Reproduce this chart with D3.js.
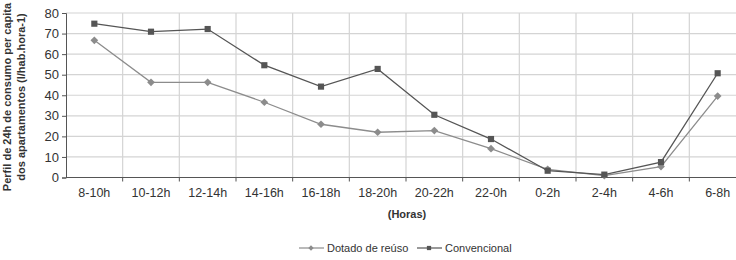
<!DOCTYPE html>
<html>
<head>
<meta charset="utf-8">
<script src="https://cdn.jsdelivr.net/npm/d3@7"></script>
<style>
body { margin: 0; background: #fff; }
svg { font-family: "Liberation Sans", Arial, sans-serif; }
</style>
</head>
<body>
<svg id="chart" width="736" height="260"></svg>
<script>
// categories and series
var horas = ["8-10h","10-12h","12-14h","14-16h","16-18h","18-20h","20-22h","22-0h","0-2h","2-4h","4-6h","6-8h"];
var dotado = [66.7, 46.3, 46.3, 36.6, 25.9, 22.0, 22.8, 14.0, 4.0, 0.9, 5.3, 39.6];
var convencional = [74.8, 70.9, 72.2, 54.6, 44.2, 52.8, 30.5, 18.7, 3.3, 1.4, 7.5, 50.7];
var yTicks = [0, 10, 20, 30, 40, 50, 60, 70, 80];

var svg = d3.select("#chart");
var pLeft = 66, pRight = 746, pTop = 13, pBottom = 177.5;

var x = d3.scaleBand().domain(horas).range([pLeft, pRight]);
var y = d3.scaleLinear().domain([0, 80]).range([pBottom, pTop]);

// grid
svg.append("g").selectAll("line").data(yTicks.slice(1)).enter().append("line")
    .attr("x1", pLeft).attr("x2", pRight)
    .attr("y1", function(d){ return y(d); }).attr("y2", function(d){ return y(d); })
    .attr("stroke", "#d4d4d4").attr("stroke-width", 1.2);
svg.append("g").selectAll("line").data(horas.slice(1)).enter().append("line")
    .attr("x1", function(d){ return x(d); }).attr("x2", function(d){ return x(d); })
    .attr("y1", pTop).attr("y2", pBottom)
    .attr("stroke", "#d4d4d4").attr("stroke-width", 1.2);
// ticks on the x axis
svg.append("g").selectAll("line").data(horas.slice(1)).enter().append("line")
    .attr("x1", function(d){ return x(d); }).attr("x2", function(d){ return x(d); })
    .attr("y1", pBottom).attr("y2", pBottom + 4)
    .attr("stroke", "#555");

// y axis
var yAxis = svg.append("g").attr("transform", "translate(" + pLeft + ",0)")
    .call(d3.axisLeft(y).tickValues(yTicks).tickSize(4).tickPadding(3));
yAxis.select(".domain").attr("stroke", "#555");
yAxis.selectAll(".tick line").attr("stroke", "#555");
yAxis.selectAll("text").attr("font-size", 13).attr("fill", "#333");

// x axis
var xAxis = svg.append("g").attr("transform", "translate(0," + pBottom + ")")
    .call(d3.axisBottom(x).tickSize(0).tickPadding(11));
xAxis.select(".domain").attr("stroke", "#555").attr("d", "M" + pLeft + ",0H" + pRight);
xAxis.selectAll("text").attr("font-size", 12.5).attr("fill", "#333");

// titles
svg.append("text")
    .attr("transform", "translate(11,97) rotate(-90)")
    .attr("text-anchor", "middle").attr("font-size", 11).attr("font-weight", "bold").attr("fill", "#333")
    .text("Perfil de 24h de consumo per capita");
svg.append("text")
    .attr("transform", "translate(25,97) rotate(-90)")
    .attr("text-anchor", "middle").attr("font-size", 11).attr("font-weight", "bold").attr("fill", "#333")
    .text("dos apartamentos (l/hab.hora-1)");
svg.append("text")
    .attr("x", 407).attr("y", 218)
    .attr("text-anchor", "middle").attr("font-size", 11).attr("font-weight", "bold").attr("fill", "#333")
    .text("(Horas)");

var line = d3.line()
    .x(function(d, i){ return x(horas[i]) + x.bandwidth() / 2; })
    .y(function(d){ return y(d); });

var series = [
    { name: "Dotado de reúso", data: dotado, color: "#8c8c8c", sym: d3.symbolDiamond2 },
    { name: "Convencional", data: convencional, color: "#555555", sym: d3.symbolSquare }
];

series.forEach(function(s){
    svg.append("path").datum(s.data)
        .attr("d", line).attr("fill", "none")
        .attr("stroke", s.color).attr("stroke-width", 1.3);
    svg.append("g").selectAll("path").data(s.data).enter().append("path")
        .attr("d", d3.symbol().type(s.sym).size(38))
        .attr("transform", function(d, i){
            return "translate(" + (x(horas[i]) + x.bandwidth() / 2) + "," + y(d) + ")";
        })
        .attr("fill", s.color);
});

// legend
var legend = svg.append("g").attr("transform", "translate(299,248)");
var lx = [0, 118];
series.forEach(function(s, i){
    var g = legend.append("g").attr("transform", "translate(" + lx[i] + ",0)");
    g.append("line").attr("x1", 0).attr("x2", 25).attr("y1", 0).attr("y2", 0)
        .attr("stroke", s.color).attr("stroke-width", 1.2);
    g.append("path").attr("d", d3.symbol().type(s.sym).size(18))
        .attr("transform", "translate(12,0)").attr("fill", s.color);
    g.append("text").attr("x", 28).attr("y", 4)
        .attr("font-size", 11).attr("fill", "#333").text(s.name);
});
</script>
</body>
</html>
